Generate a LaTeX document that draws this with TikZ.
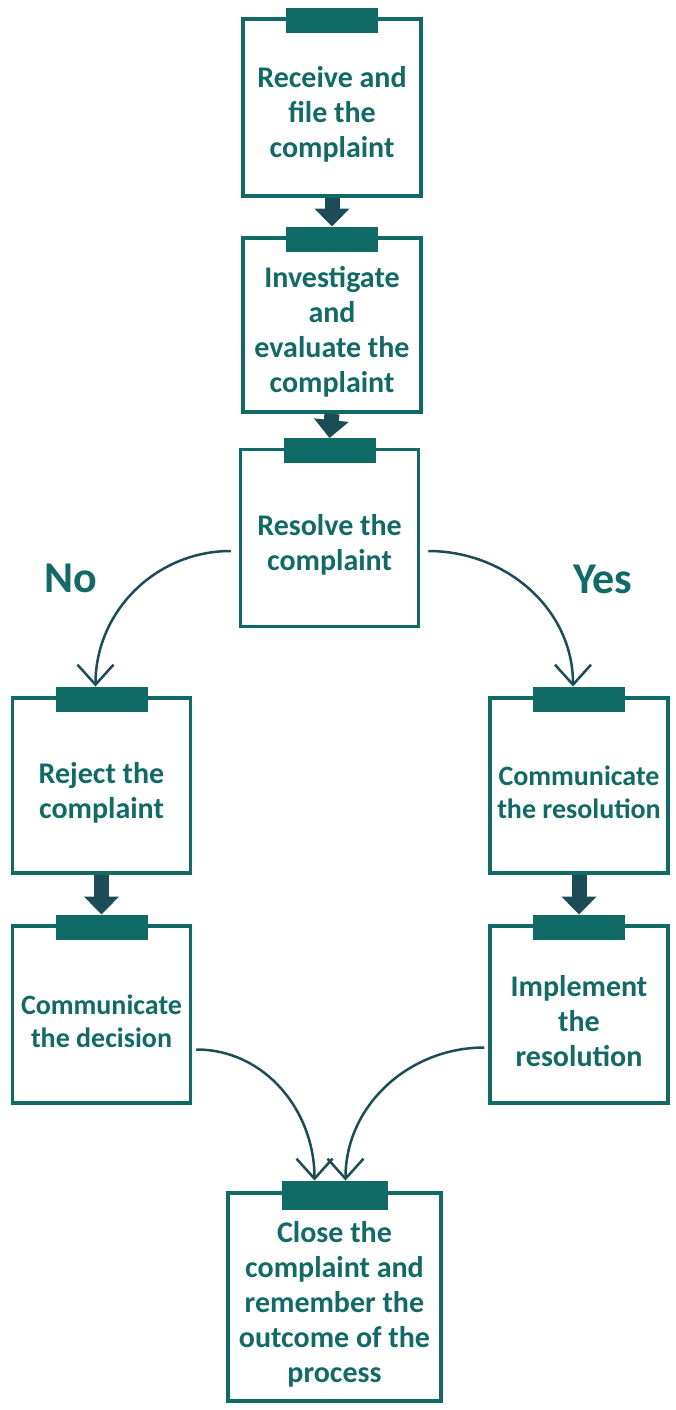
\documentclass[tikz,border=0pt]{standalone}
\usepackage{fontspec}
\setmainfont{Carlito}
\usepackage{tikz}
\usetikzlibrary{arrows.meta}
\definecolor{boxgreen}{RGB}{16,106,101}
\definecolor{arrowdark}{RGB}{28,77,87}
\tikzset{stage/.style={draw=boxgreen, line width=3.5pt, minimum width=178pt, minimum height=177pt, inner sep=0pt, align=center, text=boxgreen, font=\bfseries\fontsize{30}{35}\selectfont},
%text sits a little below the middle of the box
nlines/.style={text height=#1*35pt},
smalltext/.style={font=\bfseries\fontsize{28}{33}\selectfont, text height=67pt},
%default tab width is 92pt
tab/.style={fill=boxgreen, minimum width=#1, minimum height=25pt, inner sep=0pt},
tab/.default={92pt},
blockarrow/.style={draw=arrowdark, line width=15pt, -{Triangle[width=34pt,length=18pt]}},
curvearrow/.style={draw=arrowdark, line width=2.5pt, -{Straight Barb[width=36pt,length=20pt]}},
answer/.style={text=boxgreen, font=\bfseries\fontsize{44}{44}\selectfont}}

\begin{document}
\begin{tikzpicture}[x=1pt,y=-1pt]
\useasboundingbox (0,0) rectangle (675,1410);
%\draw [help lines,step=50] (0,0) grid (675,1410);
% main column
\node[stage, nlines=3] (recv) at (332,107.5) {Receive and\\file the\\complaint};
\node[stage, nlines=4, minimum height=174pt] (inv) at (332,325) {Investigate\\and\\evaluate the\\complaint};
\node[stage, nlines=2] (res) at (329.5,538) {Resolve the\\complaint};

% No / Yes branches
\node[stage, nlines=2, minimum height=175pt] (rej) at (101.5,785.5) {Reject the\\complaint};
\node[stage, smalltext, minimum height=175pt] (comres) at (579,785.5) {Communicate\\the resolution};
\node[stage, smalltext] (comdec) at (101.5,1014.5) {Communicate\\the decision};
\node[stage, nlines=3] (impl) at (579,1014.5) {Implement\\the\\resolution};

\node[stage, nlines=5, minimum width=213pt, minimum height=208pt] (close) at (334.5,1297) {Close the\\complaint and\\remember the\\outcome of the\\process};

%tabs
\foreach \b in {recv,inv,res,rej,comres,comdec,impl}
     \node[tab] (\b-tab) at ([yshift=-3pt]\b.north) {};
\node[tab=106pt, minimum height=29pt] (close-tab) at ([yshift=-4pt]close.north) {};

%labels
\node[answer] (no) at (71,578) {No};
\node[answer] (yes) at (603,579) {Yes};

%arrows
\foreach \a/\b in {recv/inv,inv/res,rej/comdec,comres/impl}
     \draw[blockarrow] (\a.south) -- (\b-tab.north);

\draw[curvearrow] ([xshift=-8pt,yshift=-13pt]res.west) to[out=180,in=90] ([xshift=-6pt]rej-tab.north);
\draw[curvearrow] ([xshift=8pt,yshift=-13pt]res.east) to[out=0,in=90] ([xshift=-6pt]comres-tab.north);
\draw[curvearrow] ([xshift=4pt,yshift=-35pt]comdec.east) to[out=0,in=90] ([xshift=-20pt]close-tab.north);
\draw[curvearrow] ([xshift=-4pt,yshift=-33pt]impl.west) to[out=180,in=90] ([xshift=11pt]close-tab.north);

\end{tikzpicture}
\end{document}
